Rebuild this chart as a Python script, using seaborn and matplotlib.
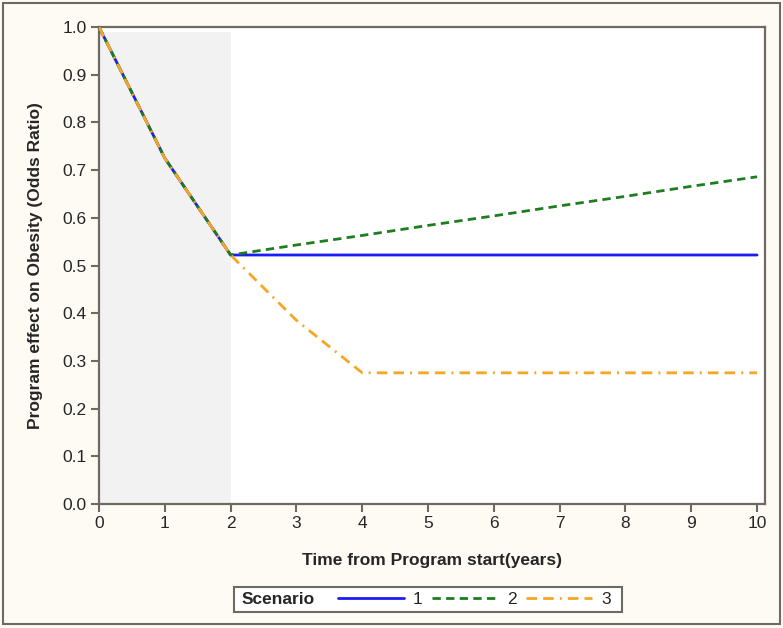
import numpy as np
import pandas as pd
import matplotlib
matplotlib.use("Agg")
import matplotlib.pyplot as plt
from matplotlib.lines import Line2D
from matplotlib.patches import Rectangle
import seaborn as sns

# data
years = [0, 1, 2, 3, 4, 5, 6, 7, 8, 9, 10]
scenario_1 = [1.0, 0.725, 0.522, 0.522, 0.522, 0.522, 0.522, 0.522, 0.522, 0.522, 0.522]
scenario_2 = [1.0, 0.725, 0.522, 0.543, 0.563, 0.584, 0.604, 0.625, 0.645, 0.666, 0.686]
scenario_3 = [1.0, 0.725, 0.522, 0.385, 0.275, 0.275, 0.275, 0.275, 0.275, 0.275, 0.275]
scenario_names = ["1", "2", "3"]
y_ticks = [0.0, 0.1, 0.2, 0.3, 0.4, 0.5, 0.6, 0.7, 0.8, 0.9, 1.0]
shade_end = 2

df = pd.DataFrame({
    "year": years * 3,
    "odds": scenario_1 + scenario_2 + scenario_3,
    "scenario": [s for s in scenario_names for _ in years],
})

sns.set_style("white")
plt.rcParams["font.family"] = ["Liberation Sans", "DejaVu Sans"]

colors = {"1": "#1c1cf0", "2": "#1e7d1e", "3": "#f5a623"}
dashes = {"1": "", "2": (3.0, 1.9), "3": (3.8, 2.2, 3.8, 2.2, 0.7, 2.2)}
lw = 2.0
frame_col = "#6e6a62"

fig = plt.figure(figsize=(7.83, 6.28), dpi=100, facecolor="#fdfbf4")
ax = fig.add_axes([99 / 783, 1 - 504 / 628, (765 - 99) / 783, (504 - 27) / 628])
ax.set_facecolor("white")

ax.axvspan(0, shade_end, ymin=0, ymax=0.99, color="#f2f2f3", zorder=0, lw=0)

sns.lineplot(data=df, x="year", y="odds", hue="scenario", style="scenario",
             palette=colors, dashes=dashes, linewidth=lw, legend=False, ax=ax,
             zorder=3)

ax.set_xlim(0, 10.12)
ax.set_ylim(0, 1.0)
ax.set_xticks(years)
ax.set_yticks(y_ticks)
ax.set_yticklabels([f"{v:.1f}" for v in y_ticks])
ax.tick_params(axis="both", direction="out", length=6, width=1.5, color=frame_col,
               labelsize=12.5, pad=3, bottom=True, left=True)
for sp in ax.spines.values():
    sp.set_color(frame_col)
    sp.set_linewidth(1.6)

ax.set_xlabel("Time from Program start(years)", fontsize=12.5, fontweight="bold")
ax.set_ylabel("Program effect on Obesity (Odds Ratio)", fontsize=12.5, fontweight="bold")
ax.xaxis.set_label_coords(0.5, -0.103)
ax.yaxis.set_label_coords(-0.084, 0.5)

# legend: frame with inline title "Scenario", entries to the right
fig.patches.append(Rectangle((234 / 783, 1 - 612 / 628), (622 - 234) / 783, 25 / 628,
                             transform=fig.transFigure, facecolor="white",
                             edgecolor=frame_col, linewidth=1.5, zorder=1))
fig.text(242 / 783, 1 - 599.5 / 628, "Scenario", fontsize=12.5, fontweight="bold",
         ha="left", va="center", zorder=2)
handles = []
for s in scenario_names:
    h = Line2D([], [], color=colors[s], linewidth=lw)
    if dashes[s]:
        h.set_dashes(dashes[s])
    handles.append(h)
leg = fig.legend(handles, scenario_names, ncol=3, loc="center left",
                 bbox_to_anchor=(335 / 783, 1 - 599.5 / 628), frameon=False,
                 fontsize=12.5, handlelength=3.8, handletextpad=0.5,
                 columnspacing=0.55, borderpad=0.2, borderaxespad=0)

# outer frame of the figure
fig.patches.append(Rectangle((3 / 783, 4 / 628), 1 - 6 / 783, 1 - 7 / 628,
                             transform=fig.transFigure, fill=False,
                             edgecolor=frame_col, linewidth=1.5))

fig.savefig("out.png", dpi=100, facecolor=fig.get_facecolor())
